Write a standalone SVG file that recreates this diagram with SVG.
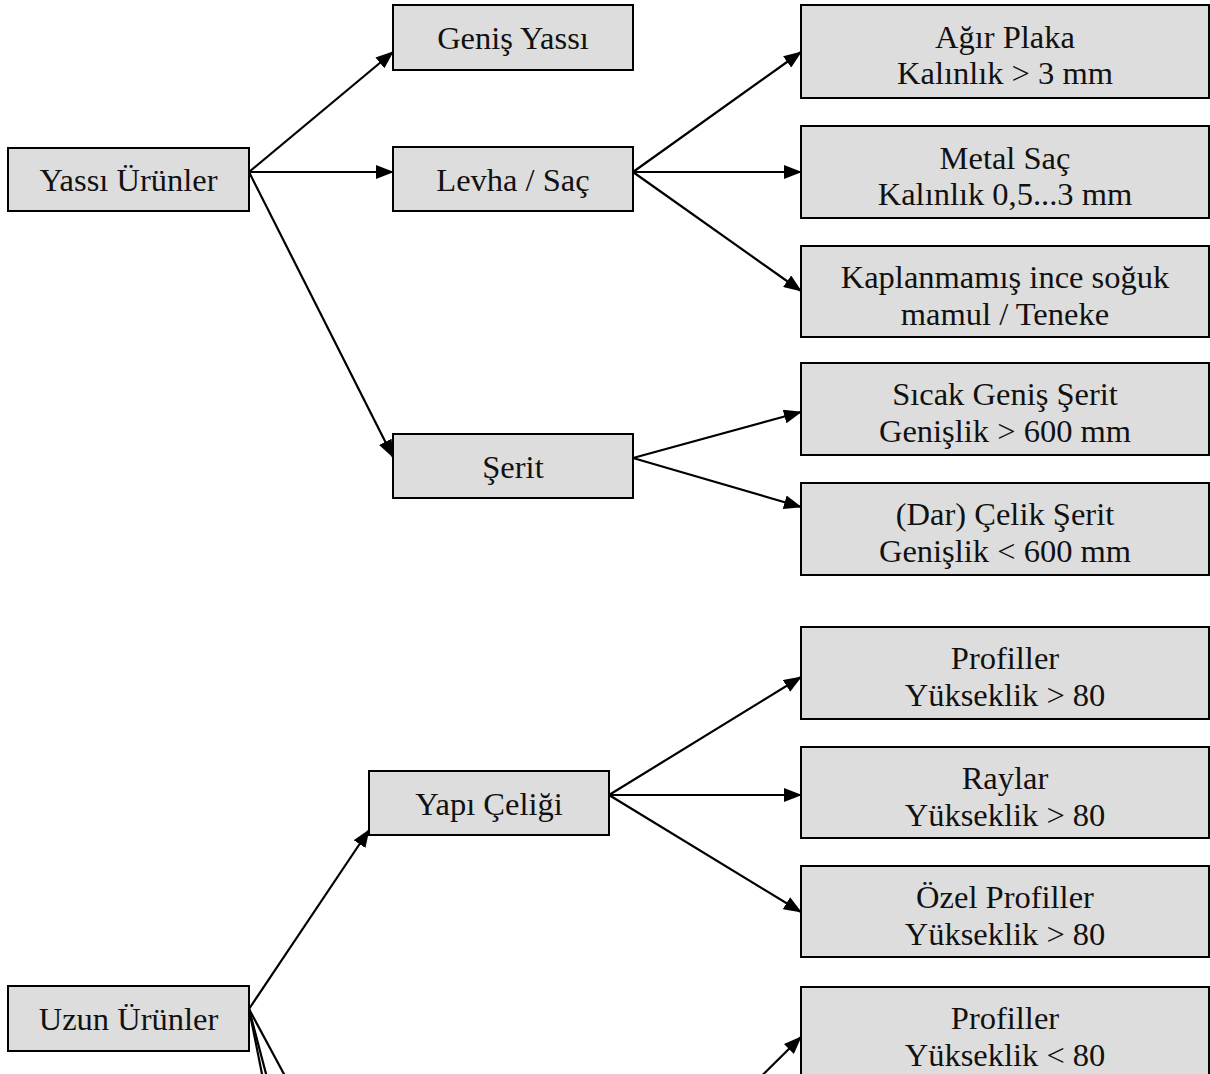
<svg xmlns="http://www.w3.org/2000/svg" width="1210" height="1074" viewBox="0 0 1210 1074">
<style>
.box{fill:#dddddd;stroke:#000;stroke-width:2}
.t{font-family:"Liberation Serif","Times New Roman",serif;font-size:32.5px;fill:#111;text-anchor:middle}
.c{stroke:#000;stroke-width:2.2;fill:none}
.a{marker-end:url(#ah)}
</style>
<defs>
<marker id="ah" markerUnits="userSpaceOnUse" markerWidth="18" markerHeight="14" refX="17" refY="7" orient="auto">
<path d="M0,0 L18,7 L0,14 Z" fill="#000"/>
</marker>
</defs>
<rect width="1210" height="1074" fill="#fff"/>
<g id="connectors">
<line class="c a" x1="249" y1="172" x2="393" y2="52"/>
<line class="c a" x1="249" y1="172" x2="393" y2="172"/>
<line class="c a" x1="249" y1="172" x2="393" y2="457"/>
<line class="c a" x1="633" y1="172" x2="801" y2="52"/>
<line class="c a" x1="633" y1="172" x2="801" y2="172"/>
<line class="c a" x1="633" y1="172" x2="801" y2="291"/>
<line class="c a" x1="633" y1="458" x2="801" y2="412"/>
<line class="c a" x1="633" y1="458" x2="801" y2="507"/>
<line class="c a" x1="609" y1="795" x2="801" y2="677"/>
<line class="c a" x1="609" y1="795" x2="801" y2="795"/>
<line class="c a" x1="609" y1="795" x2="801" y2="912"/>
<line class="c a" x1="249" y1="1009" x2="369" y2="830"/>
<line class="c" x1="249" y1="1009" x2="265" y2="1089"/>
<line class="c" x1="249" y1="1009" x2="270" y2="1089"/>
<line class="c" x1="249" y1="1009" x2="292" y2="1089"/>
<line class="c a" x1="700" y1="1137" x2="801" y2="1037"/>
</g>
<g id="yassi-urunler"><rect class="box" x="8" y="148" width="241" height="63"/><text class="t" x="128.5" y="191">Yassı Ürünler</text></g>
<g id="genis-yassi"><rect class="box" x="393" y="5" width="240" height="65"/><text class="t" x="513" y="49">Geniş Yassı</text></g>
<g id="levha-sac"><rect class="box" x="393" y="147" width="240" height="64"/><text class="t" x="513" y="191">Levha / Saç</text></g>
<g id="serit"><rect class="box" x="393" y="434" width="240" height="64"/><text class="t" x="513" y="478">Şerit</text></g>
<g id="agir-plaka"><rect class="box" x="801" y="5" width="408" height="93"/><text class="t" x="1005" y="48">Ağır Plaka</text><text class="t" x="1005" y="84">Kalınlık &gt; 3 mm</text></g>
<g id="metal-sac"><rect class="box" x="801" y="126" width="408" height="92"/><text class="t" x="1005" y="169">Metal Saç</text><text class="t" x="1005" y="205">Kalınlık 0,5...3 mm</text></g>
<g id="kaplanmamis"><rect class="box" x="801" y="246" width="408" height="91"/><text class="t" x="1005" y="288">Kaplanmamış ince soğuk</text><text class="t" x="1005" y="325">mamul / Teneke</text></g>
<g id="sicak-genis-serit"><rect class="box" x="801" y="363" width="408" height="92"/><text class="t" x="1005" y="405">Sıcak Geniş Şerit</text><text class="t" x="1005" y="442">Genişlik &gt; 600 mm</text></g>
<g id="dar-celik-serit"><rect class="box" x="801" y="483" width="408" height="92"/><text class="t" x="1005" y="525">(Dar) Çelik Şerit</text><text class="t" x="1005" y="562">Genişlik &lt; 600 mm</text></g>
<g id="profiller-1"><rect class="box" x="801" y="627" width="408" height="92"/><text class="t" x="1005" y="669">Profiller</text><text class="t" x="1005" y="706">Yükseklik &gt; 80</text></g>
<g id="raylar"><rect class="box" x="801" y="747" width="408" height="91"/><text class="t" x="1005" y="789">Raylar</text><text class="t" x="1005" y="826">Yükseklik &gt; 80</text></g>
<g id="ozel-profiller"><rect class="box" x="801" y="866" width="408" height="91"/><text class="t" x="1005" y="908">Özel Profiller</text><text class="t" x="1005" y="945">Yükseklik &gt; 80</text></g>
<g id="profiller-2"><rect class="box" x="801" y="987" width="408" height="100"/><text class="t" x="1005" y="1029">Profiller</text><text class="t" x="1005" y="1066">Yükseklik &lt; 80</text></g>
<g id="yapi-celigi"><rect class="box" x="369" y="771" width="240" height="64"/><text class="t" x="489" y="815">Yapı Çeliği</text></g>
<g id="uzun-urunler"><rect class="box" x="8" y="986" width="241" height="65"/><text class="t" x="128.5" y="1030">Uzun Ürünler</text></g>
</svg>
